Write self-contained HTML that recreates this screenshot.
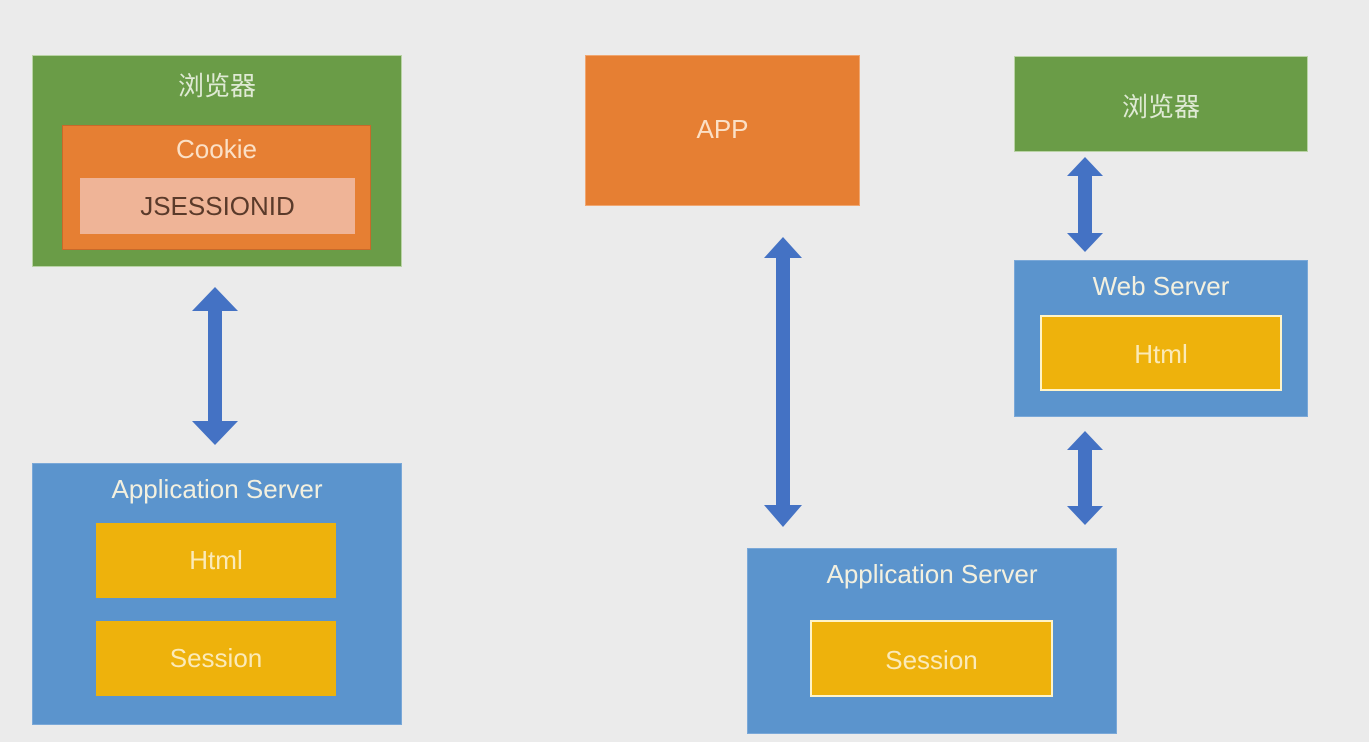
<!DOCTYPE html>
<html><head><meta charset="utf-8"><style>
body{margin:0;width:1369px;height:742px;background:#ebebeb;position:relative;overflow:hidden;font-family:"Liberation Sans","Noto Sans CJK SC",sans-serif;}
.b{position:absolute;box-sizing:border-box;text-align:center;color:#f3f0df;}
.g{background:#6a9c47;border:1px solid #b9d3a5;}
.o{background:#e67f33;}
.bl{background:#5b94cd;border:1px solid #7aa8d8;}
.y{background:#eeb20c;}
.t{position:absolute;left:0;right:0;text-align:center;font-size:26px;}
</style></head><body>
<!-- left -->
<div class="b g" style="left:32px;top:55px;width:370px;height:212px;"><div class="t" style="top:10px;color:#dfead4;">浏览器</div></div>
<div class="b o" style="left:62px;top:125px;width:309px;height:125px;border:1px solid #c8692a;"><div class="t" style="top:8px;color:#fbe0c6;">Cookie</div></div>
<div class="b" style="left:80px;top:178px;width:275px;height:56px;background:#efb497;"><div class="t" style="top:13px;color:#5a3a2a;">JSESSIONID</div></div>
<div class="b bl" style="left:32px;top:463px;width:370px;height:262px;"><div class="t" style="top:10px;">Application Server</div></div>
<div class="b y" style="left:96px;top:523px;width:240px;height:75px;"><div class="t" style="top:22px;color:#fbeab8;">Html</div></div>
<div class="b y" style="left:96px;top:621px;width:240px;height:75px;"><div class="t" style="top:22px;color:#fbeab8;">Session</div></div>
<!-- middle -->
<div class="b o" style="left:585px;top:55px;width:275px;height:151px;border:1px solid #f0a670;"><div class="t" style="top:58px;color:#fbe0c6;">APP</div></div>
<!-- right -->
<div class="b g" style="left:1014px;top:56px;width:294px;height:96px;"><div class="t" style="top:30px;color:#dfead4;">浏览器</div></div>
<div class="b bl" style="left:1014px;top:260px;width:294px;height:157px;"><div class="t" style="top:10px;">Web Server</div></div>
<div class="b y" style="left:1040px;top:315px;width:242px;height:76px;border:2px solid #fff4c8;"><div class="t" style="top:22px;color:#fbeab8;">Html</div></div>
<div class="b bl" style="left:747px;top:548px;width:370px;height:186px;"><div class="t" style="top:10px;">Application Server</div></div>
<div class="b y" style="left:810px;top:620px;width:243px;height:77px;border:2px solid #fff4c8;"><div class="t" style="top:23px;color:#fbeab8;">Session</div></div>
<svg width="1369" height="742" style="position:absolute;left:0;top:0">
<g fill="#4472c4">
<polygon points="215,287 238,311 222,311 222,421 238,421 215,445 192,421 208,421 208,311 192,311"/>
<polygon points="783,237 802,258 790,258 790,505 802,505 783,527 764,505 776,505 776,258 764,258"/>
<polygon points="1085,157 1103,176 1092,176 1092,233 1103,233 1085,252 1067,233 1078,233 1078,176 1067,176"/>
<polygon points="1085,431 1103,450 1092,450 1092,506 1103,506 1085,525 1067,506 1078,506 1078,450 1067,450"/>
</g>
</svg>
</body></html>
